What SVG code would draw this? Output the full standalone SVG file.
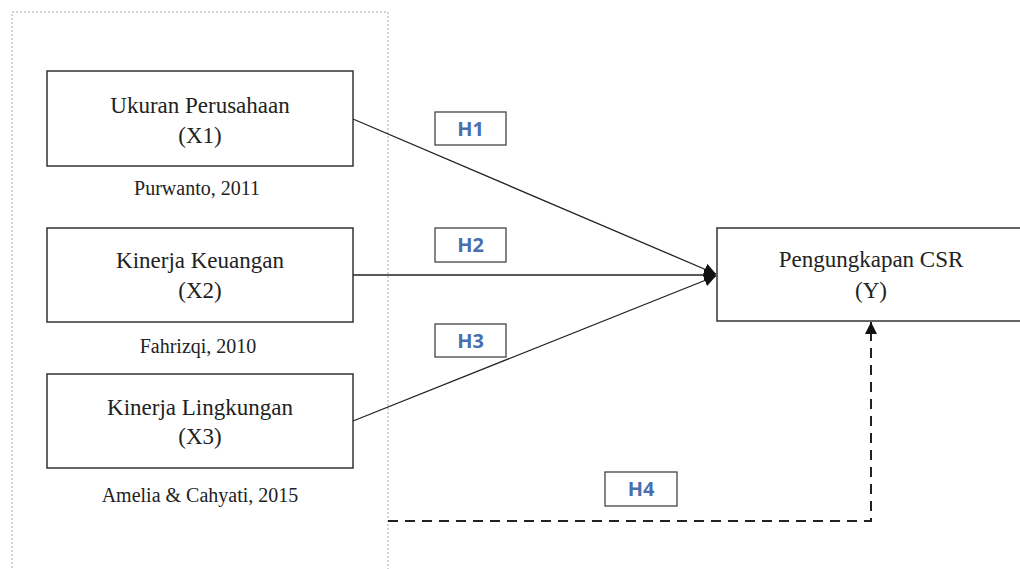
<svg xmlns="http://www.w3.org/2000/svg" width="1020" height="569" viewBox="0 0 1020 569">
<style>
.box{fill:#fff;stroke:#333;stroke-width:1.5}
.t{font-family:"Liberation Serif",serif;font-size:23px;fill:#222;text-anchor:middle}
.c{font-family:"Liberation Serif",serif;font-size:20px;fill:#222;text-anchor:middle}
.hb{fill:#fff;stroke:#444;stroke-width:1.3}
.ht{font-family:"Open Sans","Liberation Sans",sans-serif;font-size:20px;font-weight:bold;fill:#4a6fae;text-anchor:middle}
.ln{stroke:#222;stroke-width:1.3;fill:none}
.dash{stroke:#222;stroke-width:2;fill:none;stroke-dasharray:10 7}
</style>
<defs>
<marker id="ah" viewBox="0 0 10 10" refX="10" refY="5" markerWidth="12" markerHeight="12" markerUnits="userSpaceOnUse" orient="auto">
<path d="M0,0 L10,5 L0,10 z" fill="#111"/>
</marker>
</defs>
<rect x="12" y="12" width="376" height="562" fill="none" stroke="#aaa" stroke-width="1" stroke-dasharray="2 2"/>
<g id="connectors">
<line class="ln" x1="353" y1="119" x2="716" y2="274" marker-end="url(#ah)"/>
<line class="ln" x1="353" y1="275" x2="716" y2="275" marker-end="url(#ah)"/>
<line class="ln" x1="353" y1="421" x2="716" y2="276" marker-end="url(#ah)"/>
<path class="dash" d="M388,521 H871 V334"/>
<line stroke="#222" stroke-width="2" x1="871" y1="334" x2="871" y2="322" marker-end="url(#ah)"/>
</g>
<g id="x1">
<rect class="box" x="47" y="71" width="306" height="95"/>
<text class="t" x="200" y="113">Ukuran Perusahaan</text>
<text class="t" x="200" y="143">(X1)</text>
<text class="c" x="197" y="195">Purwanto, 2011</text>
</g>
<g id="x2">
<rect class="box" x="47" y="228" width="306" height="94"/>
<text class="t" x="200" y="268">Kinerja Keuangan</text>
<text class="t" x="200" y="298">(X2)</text>
<text class="c" x="198" y="353">Fahrizqi, 2010</text>
</g>
<g id="x3">
<rect class="box" x="47" y="374" width="306" height="94"/>
<text class="t" x="200" y="415">Kinerja Lingkungan</text>
<text class="t" x="200" y="444">(X3)</text>
<text class="c" x="200" y="502">Amelia &amp; Cahyati, 2015</text>
</g>
<g id="y">
<rect class="box" x="717" y="228" width="310" height="93"/>
<text class="t" x="871" y="267">Pengungkapan CSR</text>
<text class="t" x="871" y="298">(Y)</text>
</g>
<g id="h1"><rect class="hb" x="435" y="112" width="71" height="33"/><text class="ht" x="470.5" y="136">H1</text></g>
<g id="h2"><rect class="hb" x="435" y="228" width="71" height="34"/><text class="ht" x="470.5" y="252">H2</text></g>
<g id="h3"><rect class="hb" x="435" y="324" width="71" height="33"/><text class="ht" x="470.5" y="348">H3</text></g>
<g id="h4"><rect class="hb" x="605" y="472" width="72" height="34"/><text class="ht" x="641" y="496">H4</text></g>
</svg>
